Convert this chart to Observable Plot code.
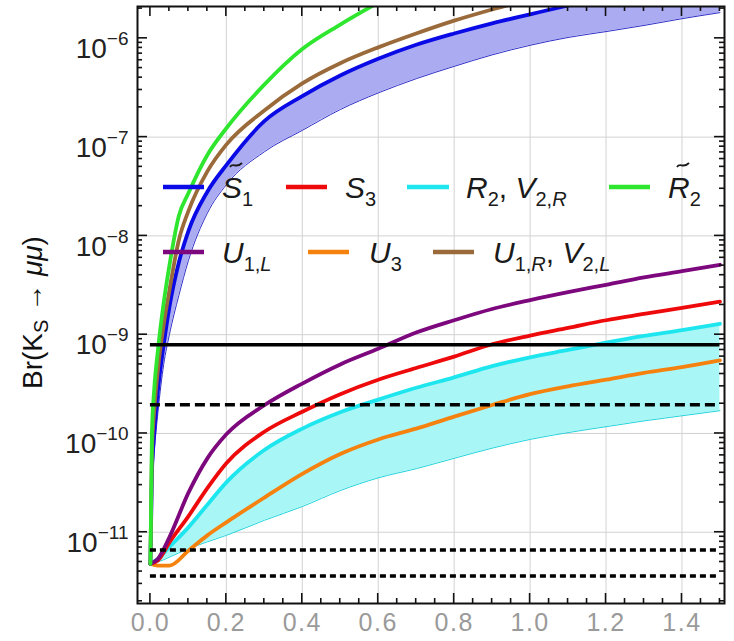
<!DOCTYPE html>
<html>
<head>
<meta charset="utf-8">
<script src="https://cdn.jsdelivr.net/npm/d3@7"></script>
<script src="https://cdn.jsdelivr.net/npm/@observablehq/plot@0.6"></script>
<style>
  html, body { margin: 0; padding: 0; background: #fff; }
  #chart svg { display: block; }
</style>
</head>
<body>
<div id="chart"></div>
<script>
// ---------- data ----------
const xUpper = [0, 0.004, 0.01, 0.02, 0.035, 0.05, 0.075, 0.1, 0.15, 0.2, 0.3, 0.4, 0.5, 0.6, 0.7, 0.8, 0.9, 1.0, 1.1, 1.2, 1.3, 1.4, 1.5];
const brR2tilde = [4.8e-12, 1.0e-10, 2.8e-10, 7.1e-10, 2.1e-9, 5.0e-9, 1.6e-8, 2.7e-8, 6.6e-8, 1.23e-7, 3.4e-7, 7.8e-7, 1.38e-6, 2.3e-6, null, null, null, null, null, null, null, null, null];
const brU1RV2L = [4.8e-12, 6.3e-11, 1.66e-10, 4.5e-10, 1.26e-9, 2.8e-9, 9.1e-9, 1.78e-8, 4.5e-8, 8.4e-8, 1.86e-7, 3.5e-7, 5.6e-7, 8.1e-7, 1.12e-6, 1.51e-6, 1.96e-6, 2.5e-6, null, null, null, null, null];
const brS1tilde = [4.8e-12, 4.0e-11, 1.0e-10, 2.8e-10, 7.9e-10, 1.9e-9, 5.4e-9, 1.12e-8, 2.8e-8, 5.2e-8, 1.45e-7, 2.6e-7, 4.2e-7, 6.2e-7, 8.6e-7, 1.12e-6, 1.42e-6, 1.75e-6, 2.15e-6, 2.6e-6, 3.0e-6, 3.5e-6, 4.0e-6];
const brS1tildeLow = [4.8e-12, 2.5e-11, 6.3e-11, 1.66e-10, 5.0e-10, 1.0e-9, 2.5e-9, 5.6e-9, 1.7e-8, 3.3e-8, 7.1e-8, 1.17e-7, 1.9e-7, 2.8e-7, 3.9e-7, 5.2e-7, 6.8e-7, 8.5e-7, 1.02e-6, 1.17e-6, 1.35e-6, 1.58e-6, 1.82e-6];

const xLower = [0, 0.02, 0.05, 0.1, 0.15, 0.2, 0.3, 0.4, 0.5, 0.6, 0.7, 0.8, 0.9, 1.0, 1.1, 1.2, 1.3, 1.4, 1.5];
const brU1L = [4.8e-12, 5.4e-12, 8.9e-12, 2.5e-11, 5.6e-11, 9.8e-11, 1.93e-10, 3.2e-10, 5.0e-10, 7.2e-10, 1.05e-9, 1.4e-9, 1.82e-9, 2.24e-9, 2.7e-9, 3.2e-9, 3.8e-9, 4.4e-9, 5.1e-9];
const brS3 = [4.8e-12, 5.2e-12, 7.9e-12, 1.45e-11, 2.8e-11, 5.0e-11, 1.04e-10, 1.66e-10, 2.5e-10, 3.5e-10, 4.6e-10, 6.0e-10, 8.0e-10, 9.8e-10, 1.17e-9, 1.4e-9, 1.62e-9, 1.87e-9, 2.16e-9];
const brR2V2R = [4.8e-12, 5.4e-12, 7.1e-12, 1.12e-11, 1.9e-11, 3.2e-11, 6.8e-11, 1.12e-10, 1.64e-10, 2.2e-10, 2.9e-10, 3.7e-10, 4.8e-10, 5.9e-10, 7.0e-10, 8.3e-10, 9.7e-10, 1.11e-9, 1.29e-9];
const brR2V2RLow = [4.8e-12, 5.0e-12, 5.6e-12, 6.8e-12, 8.0e-12, 9.3e-12, 1.32e-11, 1.82e-11, 2.64e-11, 3.55e-11, 4.4e-11, 5.6e-11, 7.1e-11, 8.7e-11, 1.02e-10, 1.17e-10, 1.34e-10, 1.51e-10, 1.7e-10];
const brU3 = [4.8e-12, 4.6e-12, 4.6e-12, 6.5e-12, 9.3e-12, 1.26e-11, 2.24e-11, 3.9e-11, 6.2e-11, 8.7e-11, 1.12e-10, 1.48e-10, 1.94e-10, 2.5e-10, 3.0e-10, 3.5e-10, 4.1e-10, 4.7e-10, 5.5e-10];

// horizontal limits: solid, dashed, dotted, dotted
const limitValues = [7.9e-10, 1.95e-10, 6.6e-12, 3.6e-12];
const limitX = [0, 1.5];

// ticks
const xTickLabels = [0, 0.2, 0.4, 0.6, 0.8, 1.0, 1.2, 1.4];
const xGridTicks = [0.2, 0.4, 0.6, 0.8, 1.0, 1.2, 1.4];
const yTickLabels = [1e-11, 1e-10, 1e-9, 1e-8, 1e-7, 1e-6];
const yGridTicks = [1e-11, 1e-10, 1e-9, 1e-8, 1e-7];

// legend order
const legendNames = ["S1tilde", "S3", "R2V2R", "R2tilde", "U1L", "U3", "U1RV2L"];

// ---------- tables ----------
const upperRows = xUpper.map((x, i) => ({x, green: brR2tilde[i], brown: brU1RV2L[i], blue: brS1tilde[i], low: brS1tildeLow[i]}));
const lowerRows = xLower.map((x, i) => ({x, purple: brU1L[i], red: brS3[i], cyan: brR2V2R[i], cyanLow: brR2V2RLow[i], orange: brU3[i]}));

const C = {
  blue: "#0a0ae6", blueFill: "#ababf2", red: "#ee0a0a", cyan: "#1ee6ee", cyanFill: "#a9f6f6",
  green: "#2ee62e", purple: "#7d077d", orange: "#f5820f", brown: "#9a6a3a"
};
const curve = "monotone-x";
const lw = 3.8;

const chart = Plot.plot({
  width: 734, height: 641,
  marginLeft: 137, marginRight: 10, marginTop: 6, marginBottom: 38,
  style: {fontFamily: "'Liberation Sans', Arial, sans-serif", background: "white"},
  x: {domain: [-0.034, 1.512]},
  y: {type: "log", domain: [1.9e-12, 2.1e-6]},
  marks: [
    Plot.gridX(xGridTicks, {stroke: "#d2d2d2", strokeOpacity: 1, strokeWidth: 1}),
    Plot.gridY(yGridTicks, {stroke: "#d2d2d2", strokeOpacity: 1, strokeWidth: 1}),
    Plot.areaY(upperRows, {x: "x", y1: "low", y2: "blue", fill: C.blueFill, curve, clip: true}),
    Plot.line(upperRows, {x: "x", y: "low", stroke: "#3030c8", strokeWidth: 1, curve, clip: true}),
    Plot.areaY(lowerRows, {x: "x", y1: "cyanLow", y2: "cyan", fill: C.cyanFill, curve, clip: true}),
    Plot.line(lowerRows, {x: "x", y: "cyanLow", stroke: "#22d4dc", strokeWidth: 1, curve, clip: true}),
    Plot.line(lowerRows, {x: "x", y: "orange", stroke: C.orange, strokeWidth: lw, curve, clip: true}),
    Plot.line(lowerRows, {x: "x", y: "cyan", stroke: C.cyan, strokeWidth: lw, curve, clip: true}),
    Plot.line(lowerRows, {x: "x", y: "red", stroke: C.red, strokeWidth: lw, curve, clip: true}),
    Plot.line(lowerRows, {x: "x", y: "purple", stroke: C.purple, strokeWidth: lw, curve, clip: true}),
    Plot.line(upperRows, {x: "x", y: "blue", stroke: C.blue, strokeWidth: lw, curve, clip: true}),
    Plot.line(upperRows, {x: "x", y: "brown", stroke: C.brown, strokeWidth: lw, curve, clip: true}),
    Plot.line(upperRows, {x: "x", y: "green", stroke: C.green, strokeWidth: lw, curve, clip: true}),
    Plot.ruleY([limitValues[0]], {x1: limitX[0], x2: limitX[1], stroke: "black", strokeWidth: 3.5}),
    Plot.ruleY([limitValues[1]], {x1: limitX[0], x2: limitX[1], stroke: "black", strokeWidth: 3.5, strokeDasharray: "10,5"}),
    Plot.ruleY([limitValues[2]], {x1: limitX[0], x2: limitX[1], stroke: "black", strokeWidth: 3.5, strokeDasharray: "6,4"}),
    Plot.ruleY([limitValues[3]], {x1: limitX[0], x2: limitX[1], stroke: "black", strokeWidth: 3.5, strokeDasharray: "6,4"}),
    Plot.frame({stroke: "#111", strokeWidth: 2}),
    Plot.axisX(xTickLabels, {tickSize: 0, tickPadding: 10, fontSize: 25, color: "#9a9a9a", tickFormat: d3.format(".1f"), label: null}),
    Plot.axisY(yTickLabels, {tickSize: 0, tickPadding: 9, fontSize: 28, color: "#222", tickFormat: d => "10^" + Math.round(Math.log10(d)), label: null})
  ]
});
document.getElementById("chart").appendChild(chart);

// ---------- post-processing: exponents, ticks, legend, title ----------
const svg = d3.select(chart);
svg.selectAll('g[aria-label="y-axis tick label"] text').each(function () {
  const s = this.textContent;
  const e = s.split("^")[1] || "";
  const t = d3.select(this);
  t.text(null).attr("dy", "0.38em");
  t.append("tspan").text("10");
  t.append("tspan").attr("dy", -13).attr("font-size", 19).text(e.replace("-", "\u2212"));
});
svg.selectAll('g[aria-label="x-axis tick label"] text').style("letter-spacing", "1.5px");

const sx = chart.scale("x"), sy = chart.scale("y");
const [xL, xR] = sx.range;
const [yB, yT] = sy.range;
const tickG = svg.append("g").attr("stroke", "#111").attr("stroke-width", 1.6);
for (let k = 0; k <= 30; k++) {
  const v = k * 0.05;
  const px = sx.apply(v);
  const len = (k % 4 === 0) ? 10 : 5;
  tickG.append("line").attr("x1", px).attr("x2", px).attr("y1", yB).attr("y2", yB - len);
  tickG.append("line").attr("x1", px).attr("x2", px).attr("y1", yT).attr("y2", yT + len);
}
for (let e = -12; e <= -6; e++) {
  for (let m = 1; m <= 9; m++) {
    const v = m * Math.pow(10, e);
    if (v < sy.domain[0] || v > sy.domain[1]) continue;
    const py = sy.apply(v);
    const len = m === 1 ? 10 : 5;
    tickG.append("line").attr("x1", xL).attr("x2", xL + len).attr("y1", py).attr("y2", py);
    tickG.append("line").attr("x1", xR).attr("x2", xR - len).attr("y1", py).attr("y2", py);
  }
}

// y-axis title
const title = svg.append("text")
  .attr("transform", `translate(42,${(yB + yT) / 2 + 8}) rotate(-90)`)
  .attr("text-anchor", "middle").attr("font-size", 28).attr("fill", "#111");
title.append("tspan").text("Br(K");
title.append("tspan").attr("dy", 6).attr("font-size", 20).text("S");
title.append("tspan").attr("dy", -6).text(" \u2192 ");
title.append("tspan").attr("font-style", "italic").text("\u03bc\u03bc");
title.append("tspan").text(")");

// legend
const legendSpec = {
  S1tilde: {color: C.blue, x0: 163, x1: 204, y: 187, tx: 222, tilde: 14, parts: [["S", "i"], ["1", "s"]]},
  S3: {color: C.red, x0: 286, x1: 327, y: 187, tx: 345, parts: [["S", "i"], ["3", "s"]]},
  R2V2R: {color: C.cyan, x0: 407, x1: 449, y: 187, tx: 466, parts: [["R", "i"], ["2", "s"], [", ", "u"], ["V", "i"], ["2,", "s"], ["R", "si"]]},
  R2tilde: {color: C.green, x0: 609, x1: 650, y: 187, tx: 668, tilde: 15, parts: [["R", "i"], ["2", "s"]]},
  U1L: {color: C.purple, x0: 163, x1: 204, y: 252, tx: 222, parts: [["U", "i"], ["1,", "s"], ["L", "si"]]},
  U3: {color: C.orange, x0: 308, x1: 349, y: 252, tx: 369, parts: [["U", "i"], ["3", "s"]]},
  U1RV2L: {color: C.brown, x0: 433, x1: 474, y: 252, tx: 493, parts: [["U", "i"], ["1,", "s"], ["R", "si"], [", ", "u"], ["V", "i"], ["2,", "s"], ["L", "si"]]}
};
const lg = svg.append("g").attr("text-anchor", "start");
legendNames.forEach(name => {
  const s = legendSpec[name];
  lg.append("line").attr("x1", s.x0).attr("x2", s.x1).attr("y1", s.y).attr("y2", s.y)
    .attr("stroke", s.color).attr("stroke-width", 4.5);
  const t = lg.append("text").attr("x", s.tx).attr("y", s.y + 11).attr("font-size", 30)
    .attr("fill", "#1a1a1a").attr("text-anchor", "start");
  let sub = false;
  s.parts.forEach(([txt, kind]) => {
    const ts = t.append("tspan").text(txt);
    const isSub = kind === "s" || kind === "si";
    if (isSub && !sub) ts.attr("dy", 8);
    if (!isSub && sub) ts.attr("dy", -8);
    sub = isSub;
    if (isSub) ts.attr("font-size", 20);
    if (kind === "i" || kind === "si") ts.attr("font-style", "italic");
  });
  if (s.tilde) {
    // tilde accent drawn as a small path above the letter
    const cx = s.tx + s.tilde, cy = s.y - 22;
    lg.append("path")
      .attr("d", `M${cx - 6},${cy + 2} C${cx - 3},${cy - 3} ${cx},${cy + 4} ${cx + 6},${cy - 2}`)
      .attr("fill", "none").attr("stroke", "#1a1a1a").attr("stroke-width", 1.8);
  }
});
</script>
</body>
</html>
